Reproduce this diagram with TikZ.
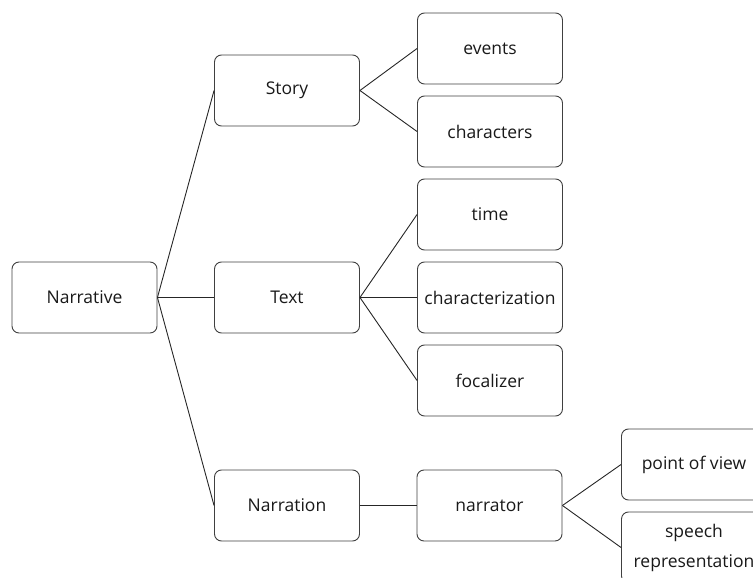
\documentclass[tikz,border=0pt]{standalone}
\usepackage{fontspec}
\setmainfont{Open Sans}
\begin{document}
\begin{tikzpicture}[x=1pt,y=-1pt,
  box/.style={draw=black!75, line width=0.9pt, rounded corners=7pt, minimum width=145pt, minimum height=71pt, inner sep=0pt, font=\fontsize{17.5}{21}\selectfont, text=black!90, fill=white},
  link/.style={draw=black!85, line width=0.9pt}]
\useasboundingbox (0,0) rectangle (753,578);
\clip (0,0) rectangle (753,578);
\node[box] (narrative) at (84.5,297.5) {Narrative};
\node[box] (story) at (287,90.5) {Story};
\node[box] (text) at (287,297.5) {Text};
\node[box] (narration) at (287,505.5) {Narration};
\node[box] (narrator) at (489.5,505.5) {narrator};
\node[box] (events) at (490,48.5) {events};
\node[box] (characters) at (490,131.5) {characters};
\node[box] (time) at (490,214.5) {time};
\node[box] (characterization) at (490,297.5) {characterization};
\node[box] (focalizer) at (490,380.5) {focalizer};
\node[box] (pov) at (694,464.5) {point of view};
\node[box, align=center, text width=145pt] (speech) at (694,547.5) {speech\\[9pt]representation};
\draw[link] (narrative.east) -- (story.west);
\draw[link] (narrative.east) -- (text.west);
\draw[link] (narrative.east) -- (narration.west);
\draw[link] (story.east) -- (events.west);
\draw[link] (story.east) -- (characters.west);
\draw[link] (text.east) -- (time.west);
\draw[link] (text.east) -- (characterization.west);
\draw[link] (text.east) -- (focalizer.west);
\draw[link] (narration.east) -- (narrator.west);
\draw[link] (narrator.east) -- (pov.west);
\draw[link] (narrator.east) -- (speech.west);
\end{tikzpicture}
\end{document}
